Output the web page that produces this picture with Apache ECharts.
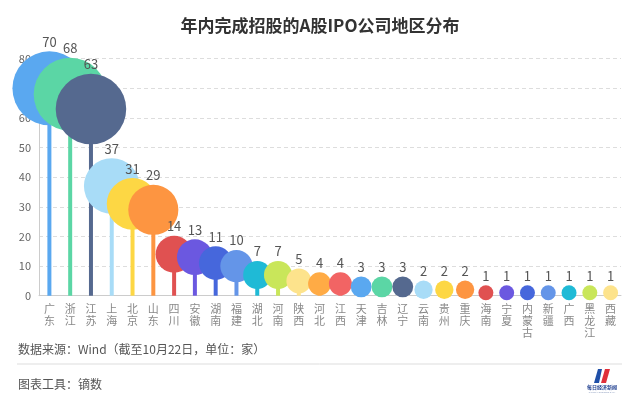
<!DOCTYPE html>
<html><head><meta charset="utf-8">
<script src="https://cdn.jsdelivr.net/npm/echarts@6/dist/echarts.min.js"></script>
<style>html,body{margin:0;padding:0;background:#fff}#c{width:640px;height:408px}</style>
</head><body><div id="c"></div>
<script>
var categories = ['广东','浙江','江苏','上海','北京','山东','四川','安徽','湖南','福建','湖北','河南','陕西','河北','江西','天津','吉林','辽宁','云南','贵州','重庆','海南','宁夏','内蒙古','新疆','广西','黑龙江','西藏'];
var values = [70,68,63,37,31,29,14,13,11,10,7,7,5,4,4,3,3,3,2,2,2,1,1,1,1,1,1,1];
var yTicks = {min:0, max:80, interval:10};
var palette = ['#5aa8f0','#5bd6a5','#55698f','#a8dcf7','#fdd744','#fd9541','#e05151','#6b58e0','#4667dc','#6495e8','#1fbad6','#c9e65a','#fde38c','#ffab45','#f26464'];

var chart = echarts.init(document.getElementById('c'), null, {renderer:'canvas'});
var barData = values.map(function(v,i){return {value:v,itemStyle:{color:palette[i%palette.length]}};});
var dotData = values.map(function(v,i){return {value:v,itemStyle:{color:palette[i%palette.length],opacity:1}};});
var font = '"Noto Sans CJK SC","Noto Sans",sans-serif';
chart.setOption({
  animation:false,
  textStyle:{fontFamily:font},
  title:{text:'年内完成招股的A股IPO公司地区分布',left:'center',top:12,textStyle:{fontSize:17,fontWeight:'bold',color:'#333',fontFamily:font}},
  grid:{left:39,right:19,top:58.7,bottom:112.3},
  xAxis:{type:'category',data:categories,
    axisLine:{lineStyle:{color:'#ccc'}},
    axisTick:{alignWithLabel:true,length:4,lineStyle:{color:'#ccc'}},
    axisLabel:{interval:0,color:'#888',fontSize:11,lineHeight:12,margin:7,formatter:function(s){return s.split('').join('\n');}}},
  yAxis:{type:'value',min:yTicks.min,max:yTicks.max,interval:yTicks.interval,
    axisLine:{show:true,lineStyle:{color:'#ccc'}},
    axisTick:{show:false},
    axisLabel:{color:'#666',fontSize:11,margin:8},
    splitLine:{lineStyle:{color:'#ddd',type:[4,3]}}},
  series:[
    {type:'bar',data:barData,barWidth:4,z:2},
    {type:'scatter',data:dotData,z:3,
      symbolSize:function(v){return 8*Math.sqrt(v)+7;},
      label:{show:true,position:'top',distance:3,color:'#555',fontSize:13}}
  ],
  graphic:[
    {type:'text',left:18,top:343,style:{text:'数据来源：Wind（截至10月22日，单位：家）',fill:'#555',font:'12px '+font}},
    {type:'line',shape:{x1:17,y1:364,x2:622,y2:364},style:{stroke:'#ddd',lineWidth:1}},
    {type:'text',left:18,top:378,style:{text:'图表工具：镝数',fill:'#555',font:'12px '+font}},
    {type:'polygon',shape:{points:[[594,383],[598,369],[602,369],[599,383]]},style:{fill:'#1f4fa8'}},
    {type:'polygon',shape:{points:[[601,383],[605,369],[610,369],[606,383]]},style:{fill:'#e0303a'}},
    {type:'text',x:602,y:387,style:{text:'每日经济新闻',fill:'#1f3f8f',font:'bold 5px '+font,align:'center',verticalAlign:'middle'}},
    {type:'text',x:602,y:392,style:{text:'NATIONAL BUSINESS DAILY',fill:'#8899bb',font:'2px sans-serif',align:'center',verticalAlign:'middle'}}
  ]
});
</script></body></html>
